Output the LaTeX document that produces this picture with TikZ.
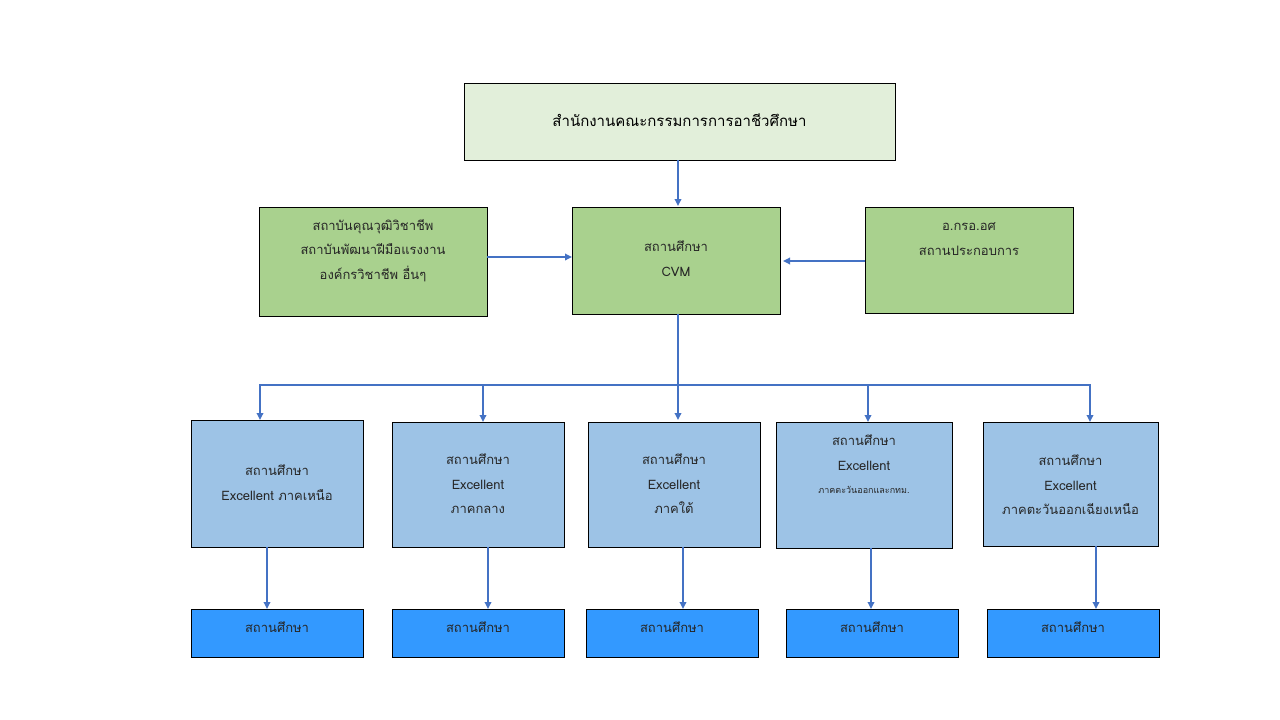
\documentclass[tikz,border=0pt]{standalone}
\usepackage{fontspec}
\setmainfont[Script=Thai]{Loma}
\usetikzlibrary{arrows.meta}
\definecolor{topfill}{HTML}{E2EFDA}
\definecolor{greenfill}{HTML}{A9D18E}
\definecolor{bluefill}{HTML}{9DC3E6}
\definecolor{deepblue}{HTML}{3399FF}
\definecolor{arrowcol}{HTML}{4472C4}
\begin{document}
\begin{tikzpicture}[x=1pt,y=-1pt,
  boxstyle/.style={draw=black,line width=0.8pt,inner sep=0pt,outer sep=0pt},
  txt/.style={align=center,font=\fontsize{13}{24.5}\selectfont,inner sep=0pt,text=black!85},
  conn/.style={draw=arrowcol,line width=1.7pt},
  arr/.style={conn,-{Triangle[width=6.5pt,length=7pt]}}]
\useasboundingbox (0,0) rectangle (1280,720);
% top
\node[boxstyle,fill=topfill,minimum width=431pt,minimum height=77pt] (top) at (679.5,121.5) {};
\node[txt,font=\fontsize{15}{24}\selectfont,text=black] (toptxt) at (679.5,120) {สำนักงานคณะกรรมการการอาชีวศึกษา};
% green row
\node[boxstyle,fill=greenfill,minimum width=228pt,minimum height=109pt] (left) at (373,261.5) {};
\node[txt,anchor=north] (lefttxt) at (373,219) {สถาบันคุณวุฒิวิชาชีพ\\สถาบันพัฒนาฝีมือแรงงาน\\องค์กรวิชาชีพ อื่นๆ};
\node[boxstyle,fill=greenfill,minimum width=208pt,minimum height=107pt] (cvm) at (676,260.5) {};
\node[txt,anchor=north] (cvmtxt) at (676,241) {สถานศึกษา\\CVM};
\node[boxstyle,fill=greenfill,minimum width=208pt,minimum height=106pt] (right) at (969,260) {};
\node[txt,anchor=north] (righttxt) at (969,223) {อ.กรอ.อศ\\สถานประกอบการ};
% blue row
\node[boxstyle,fill=bluefill,minimum width=172pt,minimum height=127pt] (b1) at (277,483.5) {};
\node[txt,anchor=north] (b1txt) at (277,465) {สถานศึกษา\\Excellent ภาคเหนือ};
\node[boxstyle,fill=bluefill,minimum width=172pt,minimum height=125pt] (b2) at (478,484.5) {};
\node[txt,anchor=north] (b2txt) at (478,454) {สถานศึกษา\\Excellent\\ภาคกลาง};
\node[boxstyle,fill=bluefill,minimum width=172pt,minimum height=125pt] (b3) at (674,484.5) {};
\node[txt,anchor=north] (b3txt) at (674,454) {สถานศึกษา\\Excellent\\ภาคใต้};
\node[boxstyle,fill=bluefill,minimum width=176pt,minimum height=126pt] (b4) at (864,485) {};
\node[txt,anchor=north] (b4txt) at (864,435) {สถานศึกษา\\Excellent};
\node[txt,font=\fontsize{9}{12}\selectfont] (b4sub) at (864,490) {ภาคตะวันออกและกทม.};
\node[boxstyle,fill=bluefill,minimum width=175pt,minimum height=124pt] (b5) at (1070.5,484) {};
\node[txt,anchor=north] (b5txt) at (1070.5,455) {สถานศึกษา\\Excellent\\ภาคตะวันออกเฉียงเหนือ};
% bottom row
\node[boxstyle,fill=deepblue,minimum width=172pt,minimum height=48pt] (c1) at (277,633) {};
\node[boxstyle,fill=deepblue,minimum width=172pt,minimum height=48pt] (c2) at (478,633) {};
\node[boxstyle,fill=deepblue,minimum width=172pt,minimum height=48pt] (c3) at (672,633) {};
\node[boxstyle,fill=deepblue,minimum width=172pt,minimum height=48pt] (c4) at (872,633) {};
\node[boxstyle,fill=deepblue,minimum width=172pt,minimum height=48pt] (c5) at (1073,633) {};
\foreach \n in {c1,c2,c3,c4,c5}{
  \node[txt] (\n txt) at ([yshift=6pt]\n.center) {สถานศึกษา};
}
% connectors
\draw[arr] (top.south -| 678,0) -- (678,206);
\draw[arr] (left.east |- 0,257) -- (cvm.west |- 0,257);
\draw[arr] (right.west |- 0,261) -- (783,261);
\coordinate (hub) at (678,385);
\draw[conn] (cvm.south -| 678,0) -- (hub);
\draw[conn] (260,385) -- (1090,385);
\draw[arr] (260,384) -- (b1.north -| 260,0);
\draw[arr] (483,384) -- (b2.north -| 483,0);
\draw[arr] (678,384) -- (678,420);
\draw[arr] (868,384) -- (b4.north -| 868,0);
\draw[arr] (1090,384) -- (b5.north -| 1090,0);
\draw[arr] (b1.south -| 267,0) -- (c1.north -| 267,0);
\draw[arr] (b2.south -| 488,0) -- (c2.north -| 488,0);
\draw[arr] (b3.south -| 683,0) -- (c3.north -| 683,0);
\draw[arr] (b4.south -| 871,0) -- (c4.north -| 871,0);
\draw[arr] (b5.south -| 1096,0) -- (c5.north -| 1096,0);
\end{tikzpicture}
\end{document}
